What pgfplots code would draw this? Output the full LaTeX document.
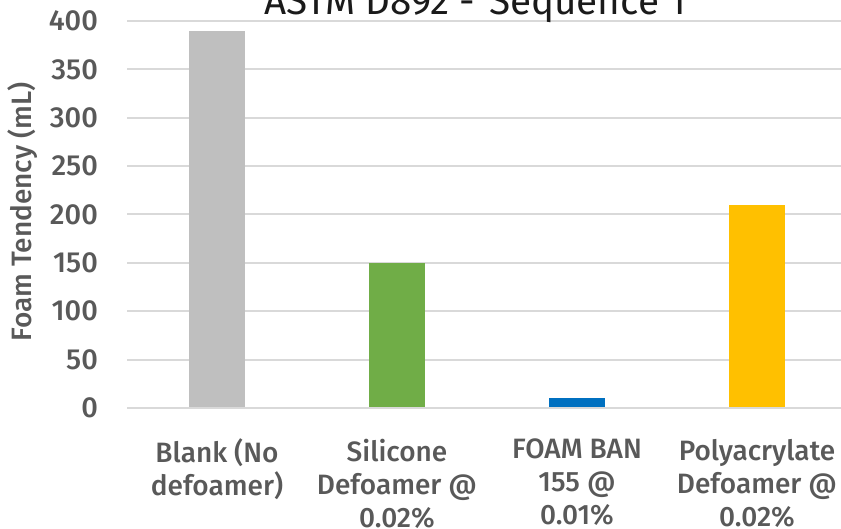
\documentclass[border=0pt]{standalone}
\usepackage{fontspec}
\setmainfont{Fira Sans}[UprightFont={* Medium}, BoldFont={* SemiBold}]
\newfontfamily\titlefont{Fira Sans}
\usepackage{pgfplots}
\pgfplotsset{compat=1.18}
\definecolor{txt}{HTML}{595959}
\definecolor{titlec}{HTML}{1A1A1A}
\definecolor{gridc}{HTML}{D9D9D9}
\definecolor{cgrey}{HTML}{BFBFBF}
\definecolor{cgreen}{HTML}{70AD47}
\definecolor{cblue}{HTML}{0070C0}
\definecolor{cyellow}{HTML}{FFC000}
\begin{document}
\begin{tikzpicture}[x=0.5pt,y=0.5pt]
\begin{axis}[
  at={(63.5pt,60.5pt)}, anchor=south west,
  scale only axis, width=360pt, height=193.5pt,
  xmin=-0.5, xmax=3.5, ymin=0, ymax=400,
  ybar, bar width=28pt,
  axis line style={draw=none},
  ymajorgrids, xmajorgrids=false, grid style={draw=gridc, line width=1pt},
  ytick={0,50,...,400},
  xtick={0,1,2,3},
  xticklabels={Blank (No\\defoamer), Silicone\\Defoamer @\\0.02\%, FOAM BAN\\155 @\\0.01\%, Polyacrylate\\Defoamer @\\0.02\%},
  major tick length=0pt,
  tick style={draw=none},
  /pgf/number format/assume math mode=true,
  yticklabel style={font=\fontsize{14.5}{16}\selectfont, text=txt, xshift=-11pt},
  xticklabel style={font=\fontsize{14}{16.5}\selectfont, text=txt, align=center, anchor=north, yshift=-12pt},
  clip=false,
]
\addplot[fill=cgrey, draw=none, bar shift=0pt] coordinates {(0,390)};
\addplot[fill=cgreen, draw=none, bar shift=0pt] coordinates {(1,150)};
\addplot[fill=cblue, draw=none, bar shift=0pt] coordinates {(2,10)};
\addplot[fill=cyellow, draw=none, bar shift=0pt] coordinates {(3,210)};
\draw[gridc, line width=1pt] (axis cs:-0.5,0) -- (axis cs:3.5,0);
\end{axis}
\node[rotate=90, text=txt, font=\fontsize{14}{16}\selectfont] at (23,317) {Foam Tendency (mL)};
\node[text=titlec, font=\titlefont\fontsize{19.3}{21}\selectfont, anchor=base] at (475,514) {ASTM D892 -\hspace{0.35em}Sequence 1};
\pgfresetboundingbox
\path (0,0) rectangle (841,529);
\end{tikzpicture}
\end{document}
